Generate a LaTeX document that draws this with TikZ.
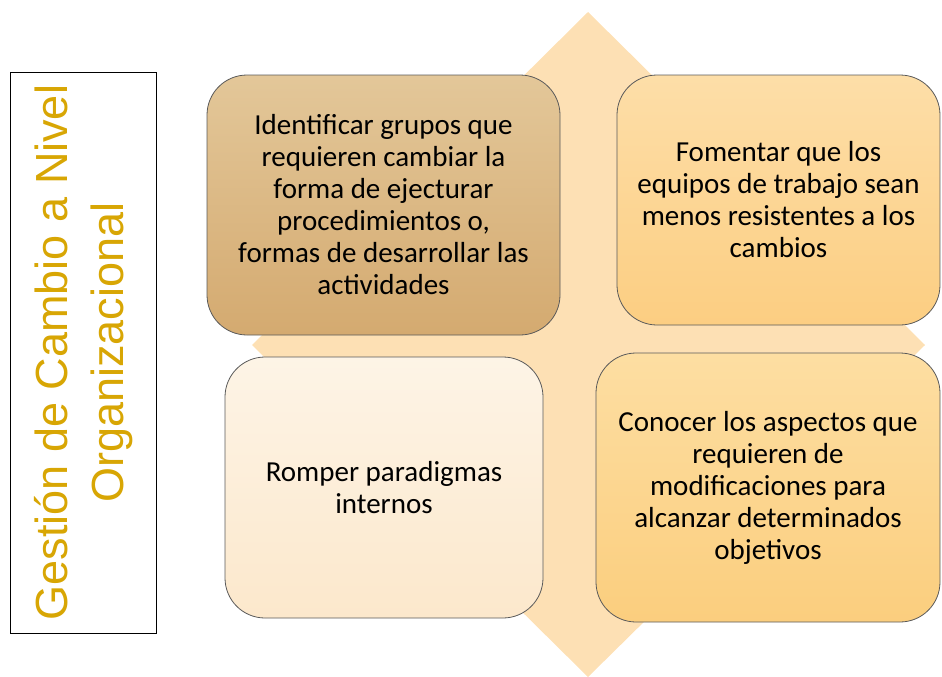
\documentclass[tikz,border=0pt]{standalone}
\usepackage{fontspec}
\setmainfont{Carlito}
\newfontfamily\titlefont{Liberation Sans}
\usepackage{tikz}
\usetikzlibrary{shapes, positioning, backgrounds}

\definecolor{diamondfill}{RGB}{253,224,180}
\definecolor{goldtext}{RGB}{216,166,4}
\definecolor{boxline}{RGB}{90,90,90}

\begin{document}
\begin{tikzpicture}[x=1pt, y=-1pt,
semithick,
card/.style={draw=boxline, line width=0.8pt, rectangle, rounded corners=40pt, align=center, inner sep=0pt, font=\fontsize{29}{32}\selectfont},
titlebox/.style={draw=black, line width=0.8pt, rectangle, fill=white}]

\useasboundingbox (0,0) rectangle (942,677);

% diamond behind the cards
\fill[diamondfill] (588,12) -- (925,345) -- (588,677) -- (252,345) -- cycle;

\node[titlebox, minimum width=146pt, minimum height=561pt]		(T)	at (83,352.5)	{};
\node[rotate=90, align=center, text=goldtext, font=\titlefont\fontsize{45}{56}\selectfont]	(Tt)	at ([xshift=1pt]T.center)	{Gesti\'on de Cambio a Nivel\\Organizacional};

\node[card, top color={rgb,255:red,227;green,199;blue,153}, bottom color={rgb,255:red,212;green,170;blue,112}, minimum width=353pt, minimum height=260pt]	(A)	at (383.5,205)	{Identificar grupos que\\requieren cambiar la\\forma de ejecturar\\procedimientos o,\\formas de desarrollar las\\actividades};
\node[card, top color={rgb,255:red,253;green,222;blue,168}, bottom color={rgb,255:red,252;green,206;blue,130}, minimum width=323pt, minimum height=250pt]	(B)	at (778.5,200)	{Fomentar que los\\equipos de trabajo sean\\menos resistentes a los\\cambios};
\node[card, top color={rgb,255:red,253;green,244;blue,230}, bottom color={rgb,255:red,252;green,232;blue,204}, minimum width=318pt, minimum height=261pt]	(C)	at (384,487.5)	{Romper paradigmas\\internos};
\node[card, top color={rgb,255:red,253;green,222;blue,162}, bottom color={rgb,255:red,251;green,206;blue,126}, minimum width=344pt, minimum height=269pt]	(D)	at (768,487.5)	{Conocer los aspectos que\\requieren de\\modificaciones para\\alcanzar determinados\\objetivos};

\end{tikzpicture}
\end{document}
